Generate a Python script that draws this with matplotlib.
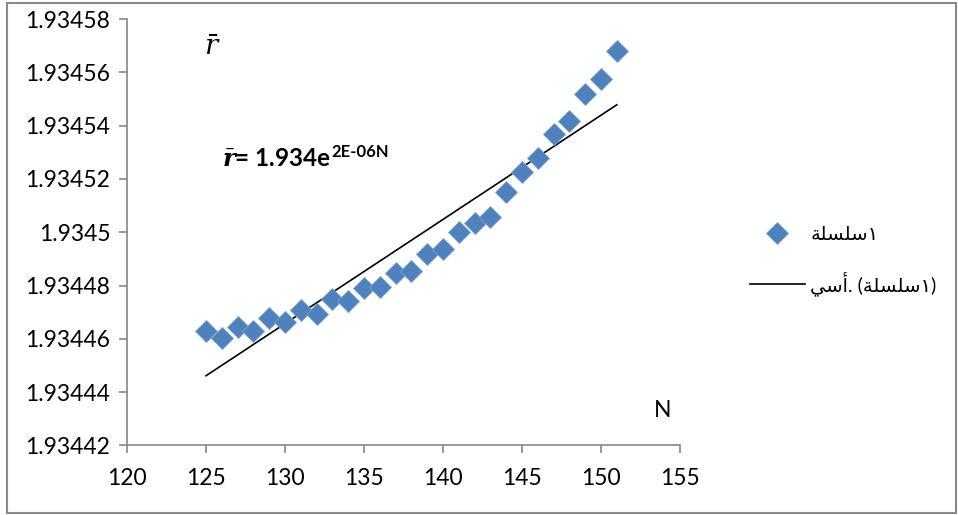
import matplotlib.pyplot as plt
import numpy as np
from matplotlib.patches import Rectangle

plt.rcParams['font.family'] = ['Lato', 'DejaVu Sans']
plt.rcParams['mathtext.fontset'] = 'dejavuserif'

# data
N = [125, 126, 127, 128, 129, 130, 131, 132, 133, 134, 135, 136, 137, 138,
     139, 140, 141, 142, 143, 144, 145, 146, 147, 148, 149, 150, 151]
r_bar = [1.9344631, 1.9344602, 1.9344643, 1.9344628, 1.9344678, 1.9344662,
         1.9344708, 1.9344695, 1.9344750, 1.9344741, 1.9344791, 1.9344793,
         1.9344849, 1.9344856, 1.9344918, 1.9344937, 1.9345000, 1.9345034,
         1.9345057, 1.9345151, 1.9345228, 1.9345277, 1.9345367, 1.9345419,
         1.9345517, 1.9345576, 1.9345681]

x_ticks = [120, 125, 130, 135, 140, 145, 150, 155]
y_ticks = [1.93442, 1.93444, 1.93446, 1.93448, 1.9345, 1.93452, 1.93454, 1.93456, 1.93458]
y_tick_labels = ['1.93442', '1.93444', '1.93446', '1.93448', '1.9345',
                 '1.93452', '1.93454', '1.93456', '1.93458']

# arabic legend text, shaped by hand (presentation forms)
series_label = '\ufe94\ufee0\ufeb4\ufee0\ufeb3\u0661'
trend_label = '\ufef2\ufeb3\ufe83. (' + series_label + ')'

fig = plt.figure(figsize=(9.58, 5.15), dpi=100)
ax = fig.add_axes([0.1326, 0.135, 0.5772, 0.828])

ax.plot(N, r_bar, 'D', color='#4F81BD', markersize=11, markeredgewidth=0.6,
        markeredgecolor='#7FA1CC', label=series_label, zorder=3)

# exponential trendline (fit on log values)
n_arr = np.array(N, dtype=float)
a, b = np.polyfit(n_arr, np.log(np.array(r_bar)), 1)
n_fit = np.linspace(n_arr.min(), n_arr.max(), 100)
ax.plot(n_fit, np.exp(b) * np.exp(a * n_fit), color='black', lw=1.2,
        label=trend_label, zorder=2)

ax.set_xlim(120, 155)
ax.set_ylim(1.93442, 1.93458)
ax.set_xticks(x_ticks)
ax.set_xticklabels([str(v) for v in x_ticks])
ax.set_yticks(y_ticks)
ax.set_yticklabels(y_tick_labels)
ax.tick_params(labelsize=16.5, length=6, width=1.2, color='#868686', pad=6)
ax.tick_params(axis='x', pad=10)

for s in ['top', 'right']:
    ax.spines[s].set_visible(False)
for s in ['left', 'bottom']:
    ax.spines[s].set_color('#868686')
    ax.spines[s].set_linewidth(1.2)

ax.text(0.139, 0.934, r'$\bar{r}$', transform=ax.transAxes, fontsize=20,
        ha='left', va='center')
ax.text(0.969, 0.083, 'N', transform=ax.transAxes, fontsize=16.5,
        ha='center', va='center')

eq = ax.text(0.172, 0.655, r'$\bar{\boldsymbol{r}}$= 1.934e', transform=ax.transAxes,
             fontsize=17.5, fontweight='bold', ha='left', va='baseline')
ax.annotate('2E-06N', xy=(1, 0), xycoords=eq, xytext=(0, 13),
            textcoords='offset pixels', fontsize=12, fontweight='bold',
            ha='left', va='baseline')

ax.legend(loc='upper left', bbox_to_anchor=(0.783, 1 - 226 / 515),
          bbox_transform=fig.transFigure, frameon=False, fontsize=14,
          handlelength=2.8, handletextpad=0.3, labelspacing=1.45,
          borderpad=0, borderaxespad=0)

fig.patches.append(Rectangle((0.007, 0.004), 0.991, 0.99, transform=fig.transFigure,
                             fill=False, edgecolor='#898989', lw=1.5))

fig.savefig('out.png', dpi=100)
